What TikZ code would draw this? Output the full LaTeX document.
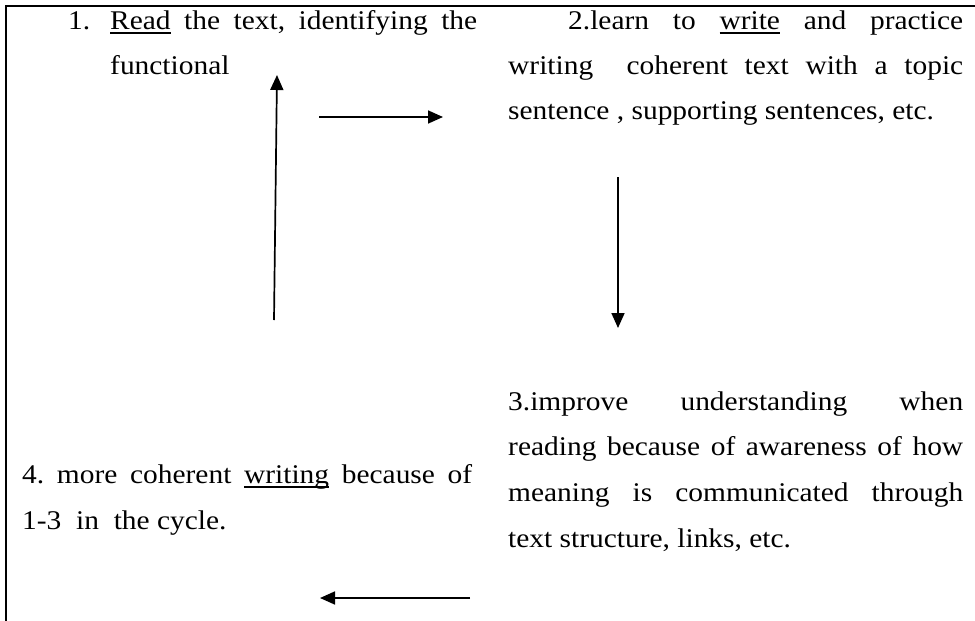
\documentclass[tikz,border=0pt]{standalone}
\usepackage{fontspec}
\setmainfont{Liberation Serif}
\newfontfamily\tfont[FakeStretch=1.09]{Liberation Serif}
\usetikzlibrary{arrows.meta}
\frenchspacing
\newcommand\myul[1]{\setbox0\hbox{#1}\rlap{\rule[-4.5pt]{\wd0}{1.4pt}}\box0\relax}
\begin{document}
\begin{tikzpicture}[x=1pt,y=-1pt,
  txt/.style={anchor=base west, inner sep=0pt, font=\tfont\fontsize{27}{46}\selectfont\frenchspacing},
  arr/.style={-{Triangle[length=15pt,width=13pt]}, line width=1.7pt},
  frame/.style={line width=2pt}]
\useasboundingbox (0,0) rectangle (975,621);
\coordinate (fb) at (6,621);
\coordinate (fc) at (6,6);
\coordinate (fr) at (975,6);
\draw[frame] (fb) -- (fc) -- (fr);
% text 1
\node[txt] (t1n) at (68,29) {1.};
\node[txt] (t1a) at (110,29) {\makebox[367pt][s]{\myul{Read} the text, identifying the}};
\node[txt] (t1b) at (110,74) {functional};
% text 2
\node[txt] (t2a) at (568,29) {\makebox[395pt][s]{2.learn to \myul{write} and practice}};
\node[txt] (t2b) at (508,74) {\makebox[455pt][s]{writing\ \ coherent text with a topic}};
\node[txt] (t2c) at (508,119) {sentence , supporting sentences, etc.};
% text 3
\node[txt] (t3a) at (508,410) {\makebox[455pt][s]{3.improve understanding when}};
\node[txt] (t3b) at (508,455) {\makebox[455pt][s]{reading because of awareness of how}};
\node[txt] (t3c) at (508,501) {\makebox[455pt][s]{meaning is communicated through}};
\node[txt] (t3d) at (508,547) {text structure, links, etc.};
% text 4
\node[txt] (t4a) at (22,483) {\makebox[450pt][s]{4. more coherent \myul{writing} because of}};
\node[txt] (t4b) at (22,529) {1-3\ \ in\ \ the cycle.};
% arrows
\coordinate (ua1) at (274,320);
\coordinate (ua2) at (277,75);
\coordinate (ra1) at (319,117);
\coordinate (ra2) at (443,117);
\coordinate (da1) at (618,177);
\coordinate (da2) at (618,328);
\coordinate (la1) at (470,598);
\coordinate (la2) at (320,598);
\draw[arr] (ua1) -- (ua2);
\draw[arr] (ra1) -- (ra2);
\draw[arr] (da1) -- (da2);
\draw[arr] (la1) -- (la2);
\end{tikzpicture}
\end{document}
